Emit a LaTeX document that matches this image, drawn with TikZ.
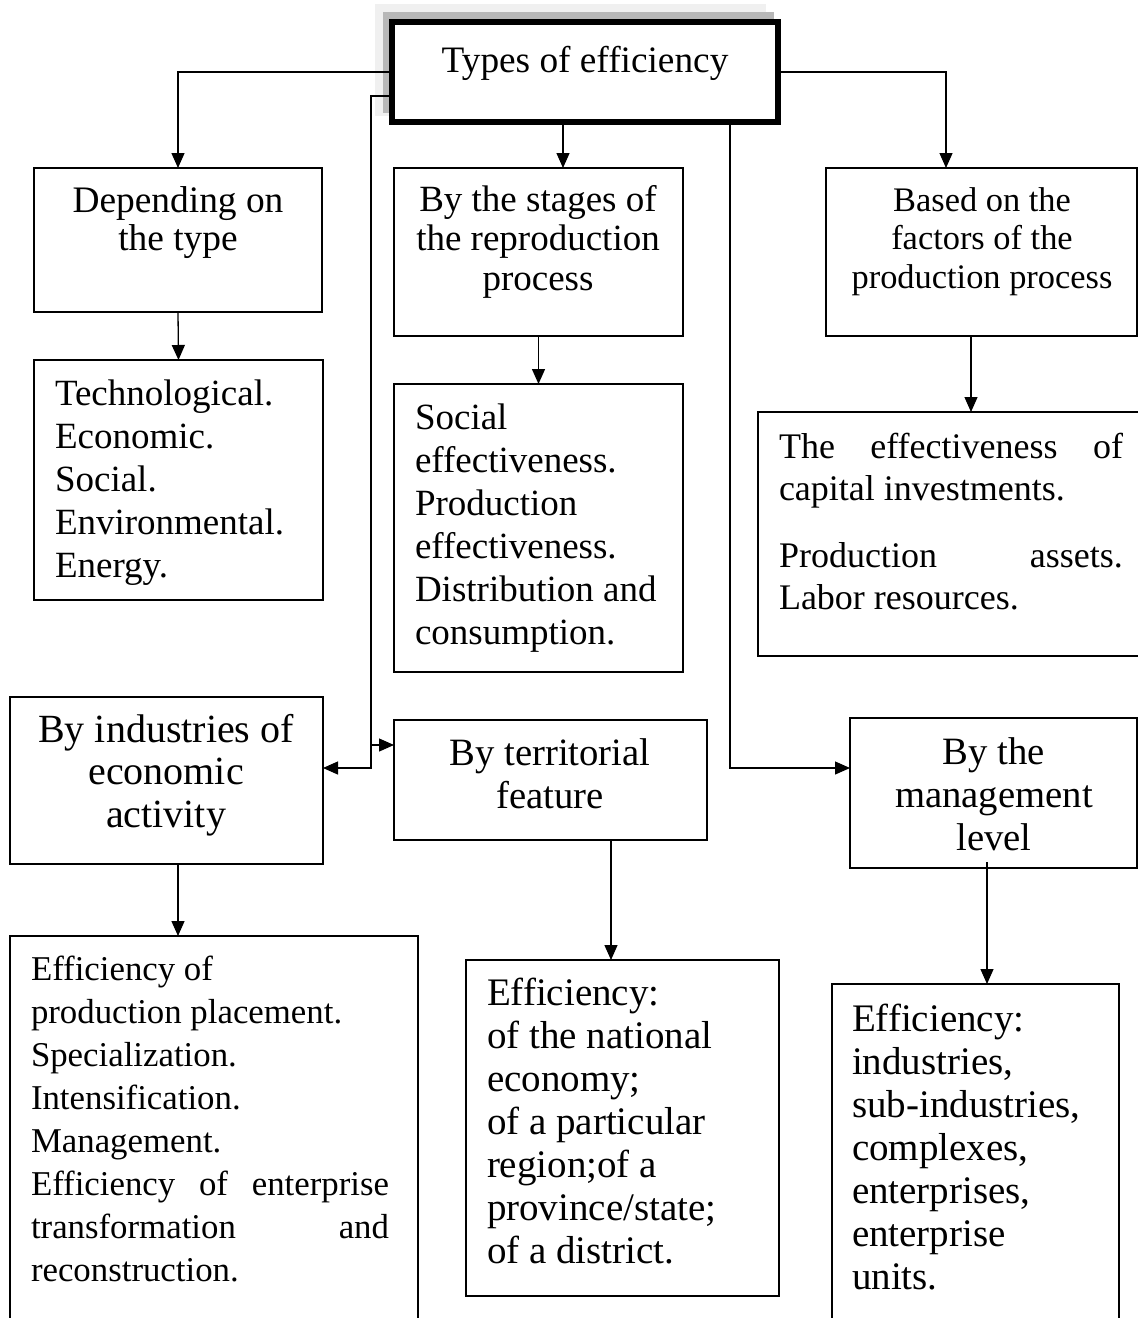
\documentclass[tikz,border=0pt]{standalone}
\usepackage{fontspec}
\setmainfont{Liberation Serif}
\usetikzlibrary{arrows.meta,calc}

% font size / line skip in one go
\newcommand\setfs[2]{\fontsize{#1pt}{#2pt}\selectfont}
% fixes the distance from a text node's top to its first baseline (30pt)
\newcommand\firststrut{\rule{0pt}{30pt}}

\tikzset{
  box/.style={draw, rectangle, line width=1.3pt, inner sep=0pt, outer sep=0pt,
              fill=white, anchor=north west},
  txt/.style={inner sep=0pt, outer sep=0pt},
  ctxt/.style={txt, anchor=north, align=center},
  ltxt/.style={txt, anchor=north west, align=left},
  link/.style={line width=1.3pt},
  arr/.style={link, -{Triangle[length=15pt,width=13pt]}},
}

\begin{document}
\begin{tikzpicture}[x=1pt, y=-1pt]
  \useasboundingbox (0,0) rectangle (1138,1318);
  \clip (0,0) rectangle (1138,1318);

  % turning points of the connectors
  \coordinate (sx) at (563,0);
  \coordinate (rx) at (730,0);
  \coordinate (bx) at (371,0);
  \coordinate (fx) at (946,0);
  \coordinate (gx) at (971,0);
  \coordinate (ix) at (178,0);
  \coordinate (tx) at (611,0);
  \coordinate (lx) at (987,0);
  \coordinate (ly) at (0,96);
  \coordinate (ay) at (0,768);
  \coordinate (by) at (0,745);

  % layered shadow behind the heading frame
  \fill[black!6]  (375,4)  rectangle (766,116);
  \fill[black!28] (383,12) rectangle (774,113);

  % frames
  \node[box, line width=6pt, minimum width=386pt, minimum height=100pt] (top) at (392,22) {};
  \node[box, minimum width=288pt, minimum height=144pt] (type)          at (34,168) {};
  \node[box, minimum width=289pt, minimum height=240pt] (typelist)      at (34,360) {};
  \node[box, minimum width=289pt, minimum height=168pt] (stages)        at (394,168) {};
  \node[box, minimum width=289pt, minimum height=288pt] (stagelist)     at (394,384) {};
  \node[box, minimum width=311pt, minimum height=168pt] (factors)       at (826,168) {};
  \node[box, minimum width=400pt, minimum height=244pt] (factorlist)    at (758,412) {};
  \node[box, minimum width=313pt, minimum height=167pt] (industries)    at (10,697) {};
  \node[box, minimum width=313pt, minimum height=120pt] (territory)     at (394,720) {};
  \node[box, minimum width=287pt, minimum height=150pt] (level)         at (850,718) {};
  \node[box, minimum width=408pt, minimum height=420pt] (industrylist)  at (10,936) {};
  \node[box, minimum width=313pt, minimum height=336pt] (territorylist) at (466,960) {};
  \node[box, minimum width=287pt, minimum height=420pt] (levellist)     at (832,984) {};

  % texts
  \node[ctxt, font=\setfs{37.3}{43}] (toptext) at (585,42) {\firststrut Types of efficiency};
  \node[ctxt, font=\setfs{37.4}{38}] (typetext) at (178,182) {\firststrut Depending on\\the type};
  \node[ltxt, font=\setfs{37}{43}] (typelisttext) at (55,375)
    {\firststrut Technological.\\Economic.\\Social.\\Environmental.\\Energy.};
  \node[ctxt, font=\setfs{37}{39.5}] (stagestext) at (538,181)
    {\firststrut By the stages of\\the reproduction\\process};
  \node[ltxt, font=\setfs{37}{43}] (stagelisttext) at (415,399)
    {\firststrut Social\\effectiveness.\\Production\\effectiveness.\\Distribution and\\consumption.};
  \node[ctxt, font=\setfs{34.4}{38.5}] (factorstext) at (982,181)
    {\firststrut Based on the\\factors of the\\production process};
  \node[ltxt, font=\setfs{36}{42}] (factorlisttext) at (779,428)
    {\firststrut\hbox to 344pt{The\hfill effectiveness\hfill of}\\
     capital investments.\\[25pt]
     \hbox to 344pt{Production\hfill assets.}\\
     Labor resources.};
  \node[ctxt, font=\setfs{40}{42.5}] (industriestext) at (166,712)
    {\firststrut By industries of\\economic\\activity};
  \node[ctxt, font=\setfs{38.7}{43}] (territorytext) at (550,735)
    {\firststrut By territorial\\feature};
  \node[ctxt, font=\setfs{38.7}{43}] (leveltext) at (994,734)
    {\firststrut By the\\management\\level};
  \node[ltxt, font=\setfs{34.8}{43}] (industrylisttext) at (31,950)
    {\firststrut Efficiency of\\production placement.\\Specialization.\\Intensification.\\Management.\\
     \hbox to 358pt{Efficiency\hfill of\hfill enterprise}\\
     \hbox to 358pt{transformation\hfill and}\\
     reconstruction.};
  \node[ltxt, font=\setfs{39}{43}] (territorylisttext) at (487,975)
    {\firststrut Efficiency:\\of the national\\economy;\\of a particular\\region;of a\\province/state;\\of a district.};
  \node[ltxt, font=\setfs{39}{43}] (levellisttext) at (852,1001)
    {\firststrut Efficiency:\\industries,\\sub-industries,\\complexes,\\enterprises,\\enterprise\\units.};

  % connectors from the heading
  \draw[arr] (top.west) -| (type.north);
  \draw[arr] (top.east) -| (factors.north -| fx);
  \draw[arr] (top.south -| sx) -- (stages.north -| sx);
  \draw[arr] (top.west |- ly) -- (bx |- ly) -- (bx |- ay) -- (industries.east |- ay);
  \draw[arr] (bx |- by) -- (territory.west |- by);
  \draw[arr] (top.south -| rx) -- (rx |- ay) -- (level.west |- ay);

  % connectors from each group to its list
  \draw[arr] (type.south) -- (typelist.north);
  \draw[arr] (stages.south) -- (stagelist.north);
  \draw[arr] (factors.south -| gx) -- (factorlist.north -| gx);
  \draw[arr] (industries.south -| ix) -- (industrylist.north -| ix);
  \draw[arr] (territory.south -| tx) -- (territorylist.north -| tx);
  \draw[arr] ($(level.south -| lx)+(0,-6)$) -- (levellist.north -| lx);
\end{tikzpicture}
\end{document}
